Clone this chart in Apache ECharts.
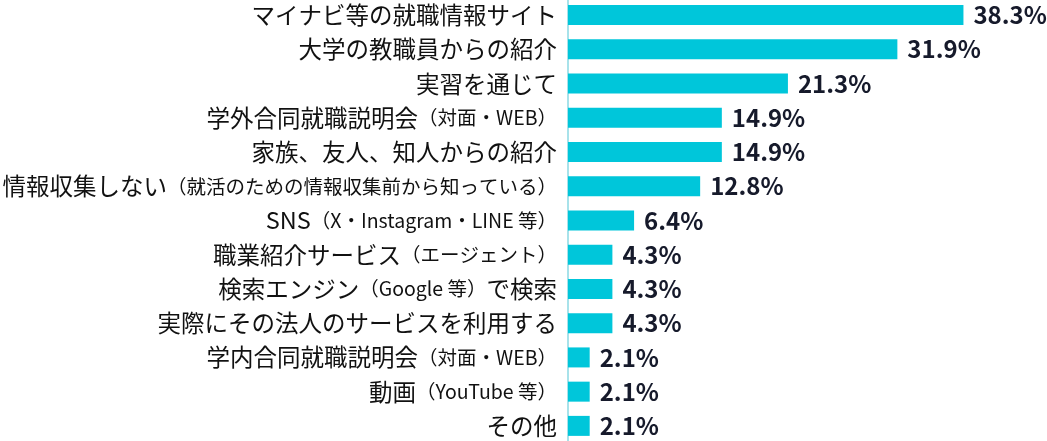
<!DOCTYPE html>
<html>
<head>
<meta charset="utf-8">
<style>
html,body{margin:0;padding:0;background:#fff;}
#c{width:1047px;height:441px;}
</style>
<script src="https://cdn.jsdelivr.net/npm/echarts@6/dist/echarts.min.js"></script>
</head>
<body>
<div id="c"></div>
<script>
const categories = [
  "マイナビ等の就職情報サイト",
  "大学の教職員からの紹介",
  "実習を通じて",
  "学外合同就職説明会（対面・WEB）",
  "家族、友人、知人からの紹介",
  "情報収集しない（就活のための情報収集前から知っている）",
  "SNS（X・Instagram・LINE 等）",
  "職業紹介サービス（エージェント）",
  "検索エンジン（Google 等）で検索",
  "実際にその法人のサービスを利用する",
  "学内合同就職説明会（対面・WEB）",
  "動画（YouTube 等）",
  "その他"
];
const values = [38.3, 31.9, 21.3, 14.9, 14.9, 12.8, 6.4, 4.3, 4.3, 4.3, 2.1, 2.1, 2.1];

const chart = echarts.init(document.getElementById('c'));
const FONT = '"Noto Sans CJK JP", "Noto Sans", sans-serif';

function fmtLabel(v) {
  return v.replace(/（[^）]*）/g, m => '{s|' + m + '}').replace(/^([^{]+)/, '{b|$1}').replace(/\}([^{]+)$/, '}{b|$1}');
}

chart.setOption({
  animation: false,
  grid: { left: 568, right: 66, top: -2, bottom: -2, containLabel: false, outerBoundsMode: 'none' },
  xAxis: { type: 'value', min: 0, max: 40, show: false },
  yAxis: {
    type: 'category',
    data: categories,
    inverse: true,
    axisLine: { show: true, lineStyle: { color: '#a8e2ea', width: 2 } },
    axisTick: { show: false },
    axisLabel: {
      margin: 11,
      formatter: fmtLabel,
      rich: {
        b: { fontFamily: FONT, fontSize: 23.5, color: '#111111' },
        s: { fontFamily: FONT, fontSize: 19.5, color: '#111111' }
      }
    }
  },
  series: [{
    type: 'bar',
    data: values,
    barWidth: 20,
    itemStyle: { color: '#00c6da' },
    label: {
      show: true,
      position: 'right',
      distance: 10,
      formatter: p => p.value.toFixed(1) + '%',
      fontFamily: FONT,
      fontWeight: 'bold',
      fontSize: 24,
      color: '#161a2b'
    }
  }]
});
</script>
</body>
</html>
